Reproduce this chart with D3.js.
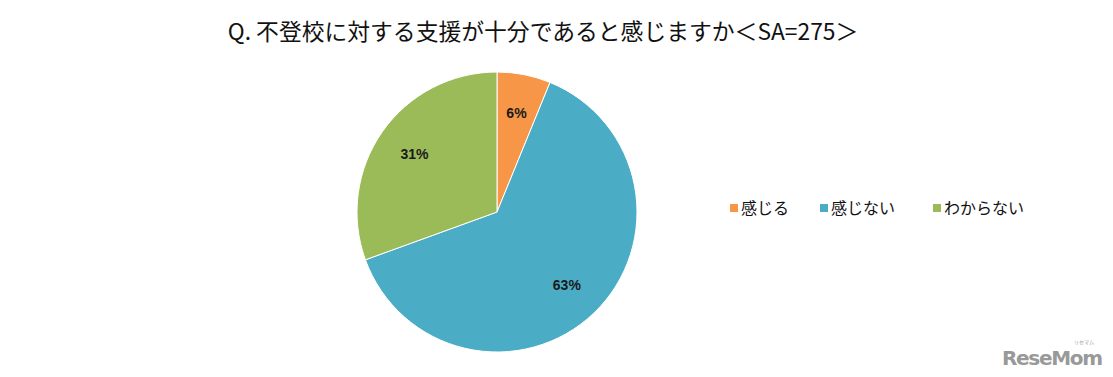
<!DOCTYPE html>
<html>
<head>
<meta charset="utf-8">
<script src="https://cdn.jsdelivr.net/npm/d3@7"></script>
<style>
  body { margin: 0; background: #fff; }
  svg { display: block; font-family: "Liberation Sans", Arial, "Noto Sans CJK JP", sans-serif; }
</style>
</head>
<body>
<svg width="1113" height="377"></svg>
<script>
var title = "Q. 不登校に対する支援が十分であると感じますか＜SA=275＞";
var categories = ["感じる", "感じない", "わからない"];
var counts = [17, 174, 84];
var colors = ["#F79646", "#4BACC6", "#9BBB59"];

var svg = d3.select("svg");
var cx = 497, cy = 212, radius = 140;

svg.append("text")
  .attr("x", 543)
  .attr("y", 40)
  .attr("text-anchor", "middle")
  .style("font-family", "'Noto Sans CJK JP', sans-serif")
  .style("font-size", "22.8px")
  .style("fill", "#111")
  .text(title);

var total = d3.sum(counts);
var data = categories.map((c, i) => ({ name: c, value: counts[i], color: colors[i] }));

var pie = d3.pie().sort(null).value(d => d.value);
var arc = d3.arc().innerRadius(0).outerRadius(radius);
var labelArc = d3.arc().innerRadius(radius * 0.72).outerRadius(radius * 0.72);

var g = svg.append("g")
  .attr("transform", "translate(" + cx + "," + cy + ")");

var slices = g.selectAll("g.slice")
  .data(pie(data)).enter()
  .append("g")
  .attr("class", "slice");

slices.append("path")
  .attr("d", arc)
  .attr("fill", d => d.data.color)
  .attr("stroke", "#fff")
  .attr("stroke-width", 1);

slices.append("text")
  .attr("transform", d => "translate(" + labelArc.centroid(d) + ")")
  .attr("text-anchor", "middle")
  .attr("dy", "0.35em")
  .style("font-size", "14px")
  .style("font-weight", "bold")
  .style("fill", "#1a1a1a")
  .text(d => Math.round(d.data.value / total * 100) + "%");

// legend
var legendX = [730, 820, 933];
var legend = svg.selectAll("g.legend")
  .data(data).enter()
  .append("g")
  .attr("class", "legend")
  .attr("transform", (d, i) => "translate(" + legendX[i] + ",208)");

legend.append("rect")
  .attr("x", 0)
  .attr("y", -4)
  .attr("width", 8)
  .attr("height", 8)
  .attr("fill", d => d.color);

legend.append("text")
  .attr("x", 11)
  .attr("dy", "0.36em")
  .style("font-family", "'Noto Sans CJK JP', sans-serif")
  .style("font-size", "16px")
  .style("fill", "#111")
  .text(d => d.name);

// watermark
svg.append("text")
  .attr("x", 1002)
  .attr("y", 365)
  .style("font-family", "'DejaVu Sans', sans-serif")
  .style("font-weight", "bold")
  .style("font-size", "20px")
  .style("letter-spacing", "-1.3px")
  .style("fill", "#999")
  .text("ReseMom");
svg.append("text")
  .attr("x", 1084)
  .attr("y", 344)
  .attr("text-anchor", "middle")
  .style("font-family", "'Noto Sans CJK JP', sans-serif")
  .style("font-size", "5px")
  .style("fill", "#999")
  .text("リセマム");
</script>
</body>
</html>
